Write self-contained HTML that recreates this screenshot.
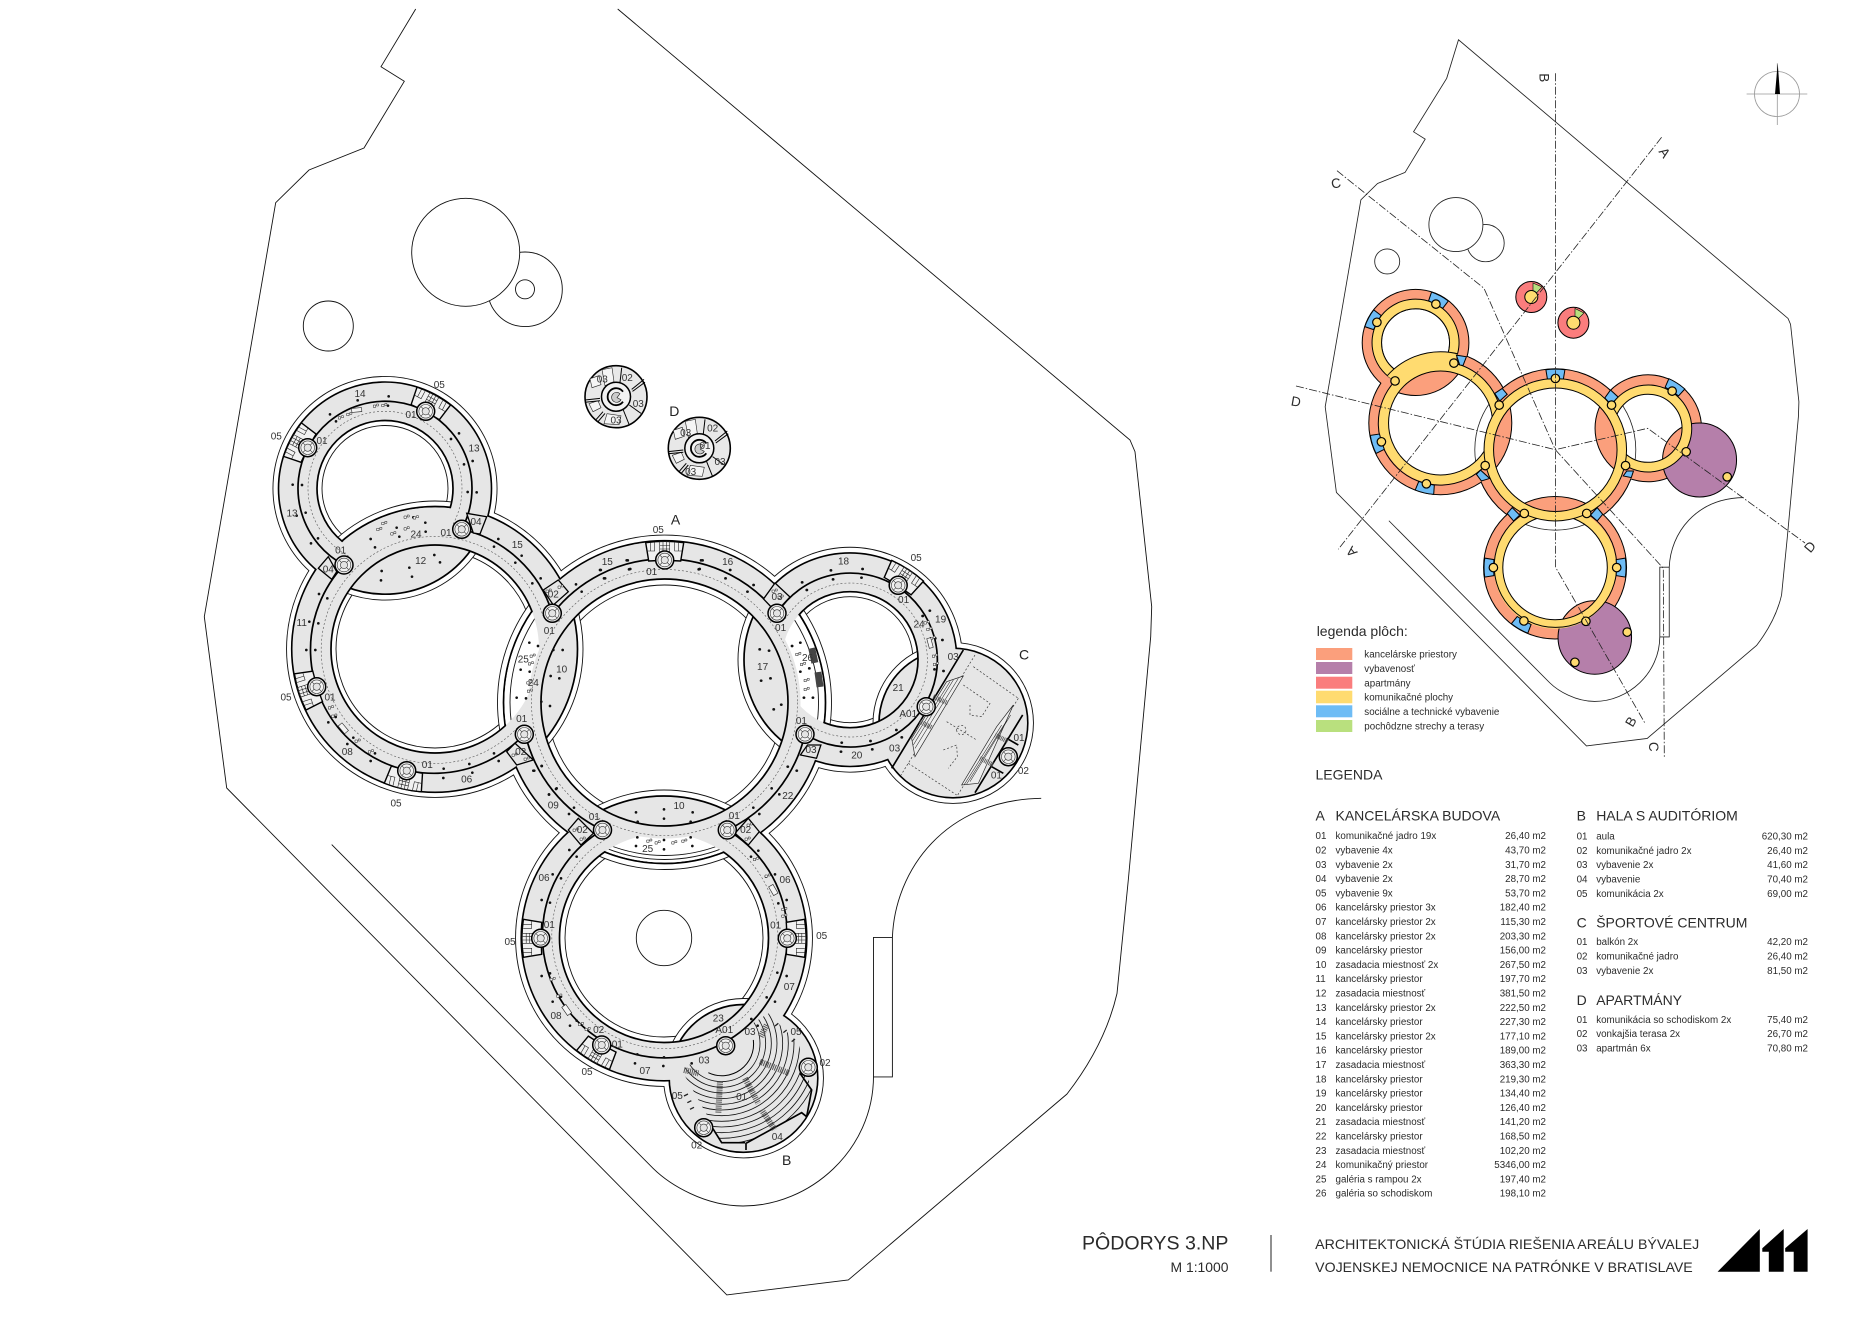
<!DOCTYPE html>
<html lang="sk"><head><meta charset="utf-8"><title>Pôdorys 3.NP</title>
<style>
html,body{margin:0;padding:0;background:#fff}
svg{display:block}
text{font-family:"Liberation Sans",sans-serif;fill:#2b2b2b}
.l text{font-size:10px;text-anchor:middle;dominant-baseline:central;fill:#333}
.big text{font-size:14px;text-anchor:middle;dominant-baseline:central;fill:#222}
.t{stroke:#111;stroke-width:.9;fill:none}
.k{stroke:#000;stroke-width:1.7;fill:none}
.dash{stroke:#555;stroke-width:.6;fill:none;stroke-dasharray:2 2}
.g{fill:#e6e6e6}
.row text{font-size:9.8px}
.val text{font-size:9.8px;text-anchor:end}
.h{font-size:14px}
.ms{stroke:#000;stroke-width:2;fill:none}
.sec{stroke:#222;stroke-width:.8;fill:none;stroke-dasharray:8 2 1.5 2}
.sl text{font-size:13.5px;text-anchor:middle;dominant-baseline:central}
</style></head><body>
<svg xmlns="http://www.w3.org/2000/svg" xmlns:xlink="http://www.w3.org/1999/xlink" width="1872" height="1335" viewBox="0 0 1872 1335">
<rect width="1872" height="1335" fill="#fff"/>
<defs>
<clipPath id="cT"><circle cx="385" cy="488.5" r="68"/></clipPath>
<clipPath id="cTm"><circle cx="385" cy="488.5" r="87"/></clipPath>
<clipPath id="cL"><circle cx="435" cy="649" r="104"/></clipPath>
<clipPath id="cA"><circle cx="664.5" cy="702.5" r="123.5"/></clipPath>
<clipPath id="cR"><circle cx="850" cy="659.7" r="68"/></clipPath>
<clipPath id="cB"><circle cx="664" cy="938" r="104.5"/></clipPath>
<clipPath id="cSeat"><polygon points="805,700 895,790 935,930 905,1000 735,1090 665,1090 640,1040 545,870 665,790"/></clipPath>
<path id="erL" fill-rule="evenodd" d="M293.5,649a141.5,141.5 0 1,0 283,0a141.5,141.5 0 1,0 -283,0ZM331,649a104,104 0 1,0 208,0a104,104 0 1,0 -208,0Z"/>
<path id="erA" fill-rule="evenodd" d="M504.5,702.5a160,160 0 1,0 320,0a160,160 0 1,0 -320,0ZM541,702.5a123.5,123.5 0 1,0 247,0a123.5,123.5 0 1,0 -247,0Z"/>
<path id="gal" fill-rule="evenodd" d="M504.5,702.5a160,160 0 1,0 320,0a160,160 0 1,0 -320,0ZM528.5,702.5a136,136 0 1,0 272,0a136,136 0 1,0 -272,0Z"/>
<path id="yT" fill-rule="evenodd" d="M298,488.5a87,87 0 1,0 174,0a87,87 0 1,0 -174,0ZM317,488.5a68,68 0 1,0 136,0a68,68 0 1,0 -136,0Z"/>
<path id="yL" fill-rule="evenodd" d="M312,649a123,123 0 1,0 246,0a123,123 0 1,0 -246,0ZM331,649a104,104 0 1,0 208,0a104,104 0 1,0 -208,0Z"/>
<path id="yA" fill-rule="evenodd" d="M522,702.5a142.5,142.5 0 1,0 285,0a142.5,142.5 0 1,0 -285,0ZM541,702.5a123.5,123.5 0 1,0 247,0a123.5,123.5 0 1,0 -247,0Z"/>
<path id="yR" fill-rule="evenodd" d="M763,659.7a87,87 0 1,0 174,0a87,87 0 1,0 -174,0ZM782,659.7a68,68 0 1,0 136,0a68,68 0 1,0 -136,0Z"/>
<path id="yB" fill-rule="evenodd" d="M541.5,938a122.5,122.5 0 1,0 245,0a122.5,122.5 0 1,0 -245,0ZM559.5,938a104.5,104.5 0 1,0 209,0a104.5,104.5 0 1,0 -209,0Z"/>
<path id="ws" d="M-1,-16L17.3,-19Q20.2,0 17.3,19L-1,16Q0,0 -1,-16Z"/>
<g id="w5">
<use href="#ws" xlink:href="#ws" fill="#f1f1f1" stroke="#000" stroke-width="1.4"/>
<path d="M9,-17V-10H17.5M9,-14H17.5M9,17V10H17.5M9,14H17.5M7.5,-5H18.5V5H7.5ZM7.5,-1.7H18.5M7.5,1.7H18.5M11,-5V5M14.5,-5V5" fill="none" stroke="#222" stroke-width=".6"/>
</g>
<g id="core">
<circle r="9" fill="#e9e9e9" stroke="#000" stroke-width="1.5"/>
<circle r="6.8" fill="#f3f3f3" stroke="#333" stroke-width=".6"/>
<circle r="3.6" fill="#e4e4e4" stroke="#333" stroke-width=".6"/>
<path d="M2.5,2.5L5,5M-2.5,2.5L-5,5M2.5,-2.5L5,-5M-2.5,-2.5L-5,-5" stroke="#333" stroke-width=".6"/>
</g>
<path id="f" d="M0,0h2.4v2.4h-2.4zM3.2,-1h2v2h-2z" fill="#f6f6f6" stroke="#222" stroke-width=".5"/>
<g id="apt">
<circle r="31" fill="#e8e8e8" stroke="#000" stroke-width="1.6"/>
<path d="M-14,-27L-4,-29L-2,-15L-11,-11ZM-26,-18L-17,-21L-15,-12L-24,-9ZM-27,7L-18,4L-15,11L-23,15ZM-9,17L5,19L3,28L-12,27Z" fill="#f5f5f5" stroke="#222" stroke-width=".6"/>
<path d="M5.7,-29L4,-14.3M28,-17.3L15.7,-7.3M29,-14.5L16.5,-5.3M25,16.7L13.3,8.3M13.3,28.3L7.3,13.3M-11,16.7L-18,25M-13,15L-20,23M-31,3.3L-16,1.7M-31,5.5L-16,4" stroke="#000" stroke-width="1" fill="none"/>
<circle r="14.5" fill="#f2f2f2" stroke="#000" stroke-width="1.5"/>
<path d="M7,-5A8.5,8.5 0 1,0 7,5" fill="none" stroke="#000" stroke-width="1.8"/>
<path d="M4,-3A5,5 0 1,0 5,3L1,1Z" fill="#ccc" stroke="#222" stroke-width=".6"/>
</g>
</defs>

<!-- MAIN PLAN -->
<g class="t">
<path d="M415.7,9L381,66.7L404.3,81.3L364,148L309,170L275.7,202.7L204.3,616.7L226.7,788L726.8,1294.9L848.3,1280L1067,1094Q1105,1045 1117,993.5L1128.3,880L1150.7,636.7L1151.7,606.7L1135,451.7L1130,440L617.7,9"/>
<path d="M331.7,844.6L653.3,1168.6C670,1185 705,1206 743,1206C810,1206 873.5,1150 873.5,1076V937.4H892.4V1076.9H873.5M892.4,937.4C895,870 945,800 1041.2,798.3"/>
<circle cx="525" cy="289.3" r="37.3"/><circle cx="525" cy="289.3" r="9.5"/>
<circle cx="465.7" cy="252.3" r="54" fill="#fff"/>
<circle cx="328.3" cy="326" r="25"/>
</g>
<!-- thin union: stroke doubled because the white fill hides its inner half -->
<g fill="none" stroke="#111" stroke-width="1.8">
<circle cx="385" cy="488.5" r="111.6"/><circle cx="435" cy="649" r="148"/><circle cx="664.5" cy="702.5" r="167"/><circle cx="850" cy="659.7" r="112"/><circle cx="664" cy="938" r="148"/><circle cx="953" cy="723" r="80"/><circle cx="743.5" cy="1078" r="79.5"/>
</g>
<g fill="#fff">
<circle cx="385" cy="488.5" r="111.6"/><circle cx="435" cy="649" r="148"/><circle cx="664.5" cy="702.5" r="167"/><circle cx="850" cy="659.7" r="112"/><circle cx="664" cy="938" r="148"/><circle cx="953" cy="723" r="80"/><circle cx="743.5" cy="1078" r="79.5"/>
</g>
<!-- thick union: stroke doubled because the grey fill hides its inner half -->
<g fill="none" stroke="#000" stroke-width="3.2">
<circle cx="385" cy="488.5" r="105.7"/><circle cx="435" cy="649" r="142.5"/><circle cx="664.5" cy="702.5" r="161"/><circle cx="850" cy="659.7" r="106"/><circle cx="664" cy="938" r="142"/><circle cx="953" cy="723" r="74"/><circle cx="743.5" cy="1078" r="73.5"/>
</g>
<g class="g">
<circle cx="385" cy="488.5" r="105.7"/><circle cx="435" cy="649" r="142.5"/><circle cx="664.5" cy="702.5" r="161"/><circle cx="850" cy="659.7" r="106"/><circle cx="664" cy="938" r="142"/><circle cx="953" cy="723" r="74"/><circle cx="743.5" cy="1078" r="73.5"/>
</g>

<!-- TL hole -->
<g clip-path="url(#cT)">
<rect x="300" y="400" width="180" height="180" fill="#fff"/>
<circle class="t" cx="385" cy="488.5" r="63"/>
<circle class="t" cx="435" cy="649" r="148" style="fill:#fff"/>
<circle class="k g" cx="435" cy="649" r="142.5" style="fill:#e6e6e6"/>
</g>
<circle class="k" cx="385" cy="488.5" r="68"/>
<use xlink:href="#erL" href="#erL" fill="#e6e6e6"/>

<!-- L hole -->
<g clip-path="url(#cL)">
<rect x="320" y="540" width="230" height="220" fill="#fff"/>
<circle class="t" cx="435" cy="649" r="99"/>
<circle class="t" cx="385" cy="488.5" r="111.6" style="fill:#fff"/>
<circle class="k" cx="385" cy="488.5" r="105.7" style="fill:#e6e6e6"/>
<circle class="t" cx="664.5" cy="702.5" r="167" style="fill:#fff"/>
<circle class="k" cx="664.5" cy="702.5" r="161" style="fill:#e6e6e6"/>
</g>
<circle class="k" cx="435" cy="649" r="104"/>

<!-- R hole -->
<g clip-path="url(#cR)">
<rect x="770" y="580" width="160" height="160" fill="#fff"/>
<circle class="t" cx="850" cy="659.7" r="63"/>
<circle class="t" cx="664.5" cy="702.5" r="167" style="fill:#fff"/>
<circle class="k" cx="664.5" cy="702.5" r="161" style="fill:#e6e6e6"/>
<circle class="t" cx="953" cy="723" r="80" style="fill:#fff"/>
<circle class="k" cx="953" cy="723" r="74" style="fill:#e6e6e6"/>
</g>
<circle class="k" cx="850" cy="659.7" r="68"/>

<!-- Bottom hole -->
<g clip-path="url(#cB)">
<rect x="550" y="825" width="230" height="225" fill="#fff"/>
<circle class="t" cx="664" cy="938" r="99"/>
<circle class="t" cx="664.5" cy="702.5" r="167" style="fill:#fff"/>
<circle class="k" cx="664.5" cy="702.5" r="161" style="fill:#e6e6e6"/>
<circle class="t" cx="743.5" cy="1078" r="79.5" style="fill:#fff"/>
<circle class="k" cx="743.5" cy="1078" r="73.5" style="fill:#e6e6e6"/>
<circle class="t" cx="664" cy="938" r="27.7"/>
</g>
<circle class="k" cx="664" cy="938" r="104.5"/>

<use xlink:href="#erA" href="#erA" fill="#e6e6e6"/>

<!-- A hole -->
<g clip-path="url(#cA)">
<rect x="535" y="575" width="260" height="255" fill="#fff"/>
<circle class="t" cx="664.5" cy="702.5" r="117.5"/>
<circle class="t" cx="435" cy="649" r="148" style="fill:#fff"/>
<circle class="k" cx="435" cy="649" r="142.5" style="fill:#e6e6e6"/>
<circle class="t" cx="850" cy="659.7" r="112" style="fill:#fff"/>
<circle class="k" cx="850" cy="659.7" r="106" style="fill:#e6e6e6"/>
<circle class="t" cx="664" cy="938" r="148" style="fill:#fff"/>
<circle class="k" cx="664" cy="938" r="142" style="fill:#e6e6e6"/>
</g>
<circle class="k" cx="664.5" cy="702.5" r="123.5"/>

<!-- galleries -->
<g clip-path="url(#cL)"><use xlink:href="#gal" href="#gal" fill="#fff"/><circle class="t" cx="664.5" cy="702.5" r="154.5"/></g>
<g clip-path="url(#cR)"><use xlink:href="#gal" href="#gal" fill="#fff"/><circle class="t" cx="664.5" cy="702.5" r="154"/></g>
<g clip-path="url(#cB)"><use xlink:href="#gal" href="#gal" fill="#fff"/><circle class="t" cx="664.5" cy="702.5" r="153"/><circle class="t" cx="664.5" cy="702.5" r="157"/></g>
<rect x="-3.5" y="-7.5" width="7" height="15" fill="#444" transform="translate(813.3 655.5) rotate(-12)"/>
<rect x="-3.5" y="-7.5" width="7" height="15" fill="#444" transform="translate(819 679.5) rotate(-8)"/>

<!-- dashed corridors -->
<g class="dash">
<path d="M348.7,556.2A77,77 0 1,1 452.9,524.6"/>
<path d="M517.4,727.7A113.5,113.5 0 1,1 543,616"/>
<circle cx="664.5" cy="702.5" r="133"/>
<path d="M810.2,725.7A77,77 0 1,0 785.4,618.7"/>
<path d="M722.4,838.3A113,113 0 1,1 607.2,838.3"/>
</g>

<!-- mid walls -->
<g class="k">
<path d="M344,565A87,87 0 1,1 461.7,529.3"/>
<path d="M461.7,529.3A123,123 0 0,1 552.3,613.3"/>
<path d="M524.3,734.3A123,123 0 1,1 344,565"/>
<path d="M552.9,613.3A142.5,142.5 0 0,1 777,613.3"/>
<path d="M805,734.3A142.5,142.5 0 0,1 727.3,830"/>
<path d="M602.5,830A142.5,142.5 0 0,1 525.2,734"/>
<path d="M805,734.3A87,87 0 1,0 777,613.3"/>
<path d="M727.3,830A122.5,122.5 0 1,1 602.5,830"/>
</g>

<!-- rooms -->
<g fill="#e6e6e6" stroke="#000" stroke-width="1.3">
<polygon points="543.3,590 558.3,580 568.3,591.7 553.3,605"/>
<polygon points="466.7,513.3 486.7,516.7 480,534 473.3,533"/>
<polygon points="328.3,556.7 318.3,568.3 331.7,579.3 336.7,571.7"/>
<polygon points="515,743.3 506.7,751.7 516.7,765 533.3,760"/>
<polygon points="775,583 763.5,599 776,612 790,597"/>
<polygon points="820.9,745 816.5,758.3 800.4,755 807.5,745"/>
<polygon points="578.3,818.3 568.3,830 581,845 593.3,833.3"/>
<polygon points="748.3,818.3 759.3,831.7 748.3,845 735,833.3"/>
</g>
<use href="#w5" xlink:href="#w5" transform="translate(425.7 411.3) rotate(-62)"/>
<use href="#w5" xlink:href="#w5" transform="translate(307.7 447.7) rotate(-152)"/>
<use href="#w5" xlink:href="#w5" transform="translate(316.7 686.7) rotate(162.3)"/>
<use href="#w5" xlink:href="#w5" transform="translate(406.7 770.7) rotate(103)"/>
<use href="#w5" xlink:href="#w5" transform="translate(664.7 560) rotate(-90)"/>
<use href="#w5" xlink:href="#w5" transform="translate(898.2 585.3) rotate(-57)"/>
<use href="#w5" xlink:href="#w5" transform="translate(540.7 938.3) rotate(180)"/>
<use href="#w5" xlink:href="#w5" transform="translate(787.3 938.3)"/>
<use href="#w5" xlink:href="#w5" transform="translate(601.7 1045) rotate(120)"/>

<!-- C interior -->
<g transform="translate(800 380) scale(.33333)">
<path d="M490,810L275,1165M668,1005L525,1238M655,1095L620,1075M610,1180L575,1160" fill="none" stroke="#000" stroke-width="5"/>
<path d="M525,825L300,1190M520,860L655,955M655,955L470,1250M325,1150L470,1245M490,915L570,970L545,1010L510,1005L510,975M430,1110L470,1095L472,1130L445,1165M440,1025L530,1080M470,1050a14,14 0 1,0 28,0a14,14 0 1,0 -28,0" fill="none" stroke="#333" stroke-width="2" stroke-dasharray="6 6"/>
<polygon points="490,888 440,905 335,1075 345,1130" fill="#eee" stroke="#222" stroke-width="2"/>
<polygon points="640,975 590,1040 485,1215 535,1210" fill="#eee" stroke="#222" stroke-width="2"/>
<path d="M475,895L345,1105M460,900L340,1095M450,905L338,1082M632,1005L510,1205M620,1022L500,1212M605,1035L492,1215" fill="none" stroke="#222" stroke-width="1.6"/>
<path d="M400,950L445,970M360,1025L400,1045M585,1065L625,1085M540,1135L580,1155" fill="none" stroke="#555" stroke-width="14" stroke-dasharray="2.5 2.5"/>
</g>

<!-- B interior -->
<g transform="translate(500 780) scale(.33333)">
<g clip-path="url(#cSeat)" fill="none" stroke="#111" stroke-width="2.5">
<circle cx="665" cy="790" r="115"/><circle cx="665" cy="790" r="132"/><circle cx="665" cy="790" r="149"/><circle cx="665" cy="790" r="166"/><circle cx="665" cy="790" r="183"/><circle cx="665" cy="790" r="200"/><circle cx="665" cy="790" r="217"/><circle cx="665" cy="790" r="234"/><circle cx="665" cy="790" r="251"/><circle cx="665" cy="790" r="268"/><circle cx="665" cy="790" r="285"/><circle cx="665" cy="790" r="302"/>
</g>
<path d="M760,780A95,95 0 0,1 625,878" fill="none" stroke="#000" stroke-width="3"/>
<path d="M635,1040L665,1088H735M738,1110V1090L905,998L920,1010M900,880L935,930L920,1010" fill="none" stroke="#000" stroke-width="5"/>
<path d="M660,905L655,1000M735,895L775,970M785,990L825,1050M780,845L868,880M552,870L595,880M800,735L782,770" fill="none" stroke="#555" stroke-width="18" stroke-dasharray="3 3"/>
<path d="M552,948l12,-6M562,968l12,-6M570,988l12,-6M825,738l10,-8M850,758l10,-8M875,785l10,-8" fill="none" stroke="#222" stroke-width="4"/>
</g>

<!-- dots -->
<g transform="translate(200 360) scale(.33333)" stroke="#111" stroke-width="8" stroke-linecap="round" fill="none">
<path d="M473,121h0M566,109h0M564,137h0M390,163h0M408,184h0M480,148h0M777,220h0M753,237h0M818,303h0M792,313h0M830,397h0M803,396h0M278,374h0M306,375h0M290,467h0M317,458h0M333,550h0M354,535h0M676,488h0M677,515h0M512,537h0M525,562h0M590,503h0M598,530h0M640,472h0M895,537h0M882,560h0M965,587h0M946,608h0M1022,655h0M997,670h0M1128,673h0M1145,695h0M1200,630h0M1212,655h0M1280,601h0M1287,628h0M1503,601h0M1496,628h0M703,585h0M720,607h0M628,623h0M636,650h0M545,633h0M543,661h0M357,702h0M382,715h0M328,785h0M355,790h0M319,870h0M346,870h0M385,1087h0M407,1071h0M442,1152h0M460,1133h0M512,1203h0M525,1180h0M731,1226h0M730,1254h0M808,1212h0M817,1238h0M882,1180h0M896,1203h0M1060,870h0M1088,870h0M1052,948h0M1078,955h0M1024,1025h0M1050,1038h0M988,848h0M1014,858h0M962,929h0M989,935h0M950,1013h0M978,1015h0M1025,1218h0M1000,1232h0M1068,1287h0M1047,1303h0"/>
</g>
<g transform="translate(500 500) scale(.3597 .33333)" stroke="#111" stroke-width="8" stroke-linecap="round" fill="none">
<path d="M280,210h0M292,235h0M355,181h0M362,207h0M563,181h0M555,207h0M640,210h0M627,235h0M705,255h0M688,275h0M840,247h0M853,270h0M920,211h0M926,238h0M1008,207h0M1005,233h0M1195,332h0M1175,348h0M1230,420h0M1210,415h0M1233,513h0M1208,508h0M1117,712h0M1102,690h0M1035,748h0M1030,723h0M950,728h0M948,755h0M835,428h0M812,438h0M860,505h0M835,515h0M870,593h0M845,593h0M722,448h0M748,452h0M726,542h0M752,535h0M761,628h0M782,614h0M800,800h0M825,812h0M116,798h0M95,812h0"/>
</g>
<g transform="translate(500 780) scale(.33333)" stroke="#111" stroke-width="8" stroke-linecap="round" fill="none">
<path d="M147,44h0M170,25h0M207,102h0M222,83h0M815,25h0M838,43h0M760,83h0M778,102h0M412,172h0M492,180h0M572,172h0M408,198h0M492,208h0M577,198h0M408,97h0M413,125h0M492,88h0M492,116h0M578,97h0M572,125h0M158,283h0M183,295h0M125,360h0M150,368h0M125,588h0M150,580h0M158,665h0M183,650h0M210,737h0M230,722h0M230,230h0M208,210h0M775,212h0M753,230h0M825,283h0M798,290h0M860,360h0M835,370h0M860,588h0M832,578h0M825,665h0M800,652h0M773,737h0M754,717h0M412,823h0M492,832h0M575,850h0M405,850h0M490,858h0"/>
</g>

<!-- furniture -->
<g>
<use href="#f" xlink:href="#f" x="338.3" y="416.7"/><use href="#f" xlink:href="#f" x="346.7" y="413.3"/><use href="#f" xlink:href="#f" x="373.3" y="405"/><use href="#f" xlink:href="#f" x="381.7" y="404.3"/><use href="#f" xlink:href="#f" x="376.7" y="528.3"/><use href="#f" xlink:href="#f" x="390.7" y="532.7"/><use href="#f" xlink:href="#f" x="404" y="527.7"/><use href="#f" xlink:href="#f" x="413.3" y="516.7"/><use href="#f" xlink:href="#f" x="404" y="516"/><use href="#f" xlink:href="#f" x="381.7" y="522.3"/><use href="#f" xlink:href="#f" x="530" y="655"/><use href="#f" xlink:href="#f" x="528.3" y="662.7"/><use href="#f" xlink:href="#f" x="526.7" y="681.7"/><use href="#f" xlink:href="#f" x="527.3" y="690"/><use href="#f" xlink:href="#f" x="328.3" y="706.7"/><use href="#f" xlink:href="#f" x="331.7" y="715"/><use href="#f" xlink:href="#f" x="355" y="740"/><use href="#f" xlink:href="#f" x="368.3" y="750.7"/><use href="#f" xlink:href="#f" x="924" y="621.7"/><use href="#f" xlink:href="#f" x="926.7" y="628.3"/><use href="#f" xlink:href="#f" x="930" y="637.3"/><use href="#f" xlink:href="#f" x="932.3" y="655"/><use href="#f" xlink:href="#f" x="933.3" y="663.3"/><use href="#f" xlink:href="#f" x="646.7" y="840"/><use href="#f" xlink:href="#f" x="655" y="841.7"/><use href="#f" xlink:href="#f" x="671.7" y="841.7"/><use href="#f" xlink:href="#f" x="681.7" y="840"/><use href="#f" xlink:href="#f" x="753.3" y="858.3"/><use href="#f" xlink:href="#f" x="765" y="875"/><use href="#f" xlink:href="#f" x="781.7" y="908.3"/><use href="#f" xlink:href="#f" x="781.7" y="915"/><use href="#f" xlink:href="#f" x="550" y="978.3"/><use href="#f" xlink:href="#f" x="556.7" y="995"/><use href="#f" xlink:href="#f" x="578.3" y="1023.3"/><use href="#f" xlink:href="#f" x="585" y="1028.3"/><use href="#f" xlink:href="#f" x="795.7" y="653.3"/><use href="#f" xlink:href="#f" x="800.4" y="663.3"/><use href="#f" xlink:href="#f" x="804" y="679.3"/><use href="#f" xlink:href="#f" x="804" y="688.3"/>
<use href="#f" xlink:href="#f" x="546" y="590"/><use href="#f" xlink:href="#f" x="558" y="586"/><use href="#f" xlink:href="#f" x="512" y="754"/><use href="#f" xlink:href="#f" x="524" y="758"/><use href="#f" xlink:href="#f" x="573" y="829"/><use href="#f" xlink:href="#f" x="580" y="838"/><use href="#f" xlink:href="#f" x="747" y="824"/><use href="#f" xlink:href="#f" x="745" y="838"/><use href="#f" xlink:href="#f" x="772" y="590"/><use href="#f" xlink:href="#f" x="778" y="596"/>
</g>
<g fill="#f4f4f4" stroke="#222" stroke-width=".6">
<rect x="-2.5" y="-5" width="5" height="10" transform="translate(343.3 728.3) rotate(-40)"/>
<rect x="-5" y="-2" width="10" height="4" transform="translate(356.7 410) rotate(-5)"/>
<rect x="-2.5" y="-5" width="5" height="10" transform="translate(773.3 890) rotate(-30)"/>
<rect x="-2.5" y="-5" width="5" height="10" transform="translate(566.7 1010) rotate(-35)"/>
<rect x="-2" y="-5" width="4" height="10" transform="translate(930 643) rotate(-15)"/>
</g>

<!-- cores -->
<use href="#core" xlink:href="#core" x="425.7" y="411.3"/><use href="#core" xlink:href="#core" x="307.7" y="447.7"/><use href="#core" xlink:href="#core" x="344" y="565"/><use href="#core" xlink:href="#core" x="461.7" y="529.3"/><use href="#core" xlink:href="#core" x="552.3" y="613.3"/><use href="#core" xlink:href="#core" x="524.3" y="734.3"/><use href="#core" xlink:href="#core" x="406.7" y="770.7"/><use href="#core" xlink:href="#core" x="316.7" y="686.7"/><use href="#core" xlink:href="#core" x="664.7" y="560"/><use href="#core" xlink:href="#core" x="777" y="613.3"/><use href="#core" xlink:href="#core" x="805" y="734.3"/><use href="#core" xlink:href="#core" x="602.5" y="830"/><use href="#core" xlink:href="#core" x="727.3" y="830"/><use href="#core" xlink:href="#core" x="898.2" y="585.3"/><use href="#core" xlink:href="#core" x="926.2" y="706.7"/><use href="#core" xlink:href="#core" x="1008.3" y="756.7"/><use href="#core" xlink:href="#core" x="540.7" y="938.3"/><use href="#core" xlink:href="#core" x="787.3" y="938.3"/><use href="#core" xlink:href="#core" x="601.7" y="1045"/><use href="#core" xlink:href="#core" x="725.7" y="1045.7"/><use href="#core" xlink:href="#core" x="808.3" y="1067.3"/><use href="#core" xlink:href="#core" x="703.7" y="1127.7"/>

<use href="#apt" xlink:href="#apt" x="616" y="396.7"/>
<use href="#apt" xlink:href="#apt" x="699.3" y="448.3"/>

<!-- plan labels -->
<g class="l">
<text x="439.3" y="385.7">05</text><text x="360" y="394.7">14</text><text x="411" y="415.7">01</text><text x="474" y="449">13</text><text x="276.3" y="437">05</text><text x="322" y="441.7">01</text><text x="292" y="514">13</text><text x="416" y="535">24</text><text x="446" y="533.3">01</text><text x="476" y="522.3">04</text><text x="517.3" y="545.7">15</text><text x="340.7" y="551">01</text><text x="328.3" y="570">04</text><text x="420.7" y="561.3">12</text><text x="553.3" y="595">02</text><text x="607.3" y="562.3">15</text><text x="658.3" y="530.7">05</text><text x="651.7" y="572.7">01</text><text x="549.3" y="631.7">01</text><text x="301.7" y="623.3">11</text><text x="523.3" y="660">25</text><text x="561.7" y="670">10</text><text x="533.3" y="683.3">24</text><text x="286" y="698">05</text><text x="330" y="698">01</text><text x="521.7" y="719.3">01</text><text x="520.7" y="752.7">02</text><text x="347.3" y="752.7">08</text><text x="427.3" y="765.7">01</text><text x="466.7" y="780">06</text><text x="396" y="804">05</text>
<text x="727.7" y="562.7">16</text><text x="843.5" y="562">18</text><text x="916.2" y="558.7">05</text><text x="903.6" y="600.7">01</text><text x="777" y="597.3">03</text><text x="780.6" y="628.7">01</text><text x="919" y="625">24</text><text x="940.6" y="620">19</text><text x="807.5" y="658.3">26</text><text x="762.6" y="667.7">17</text><text x="953.2" y="657.7">03</text><text x="898.2" y="688.7">21</text><text x="908.3" y="714.3">A01</text><text x="801.4" y="721.7">01</text><text x="894.6" y="749">03</text><text x="856.8" y="756">20</text><text x="811" y="750.7">03</text><text x="1019" y="738.7">01</text><text x="1023.4" y="771.7">02</text><text x="996.4" y="776">01</text><text x="787.8" y="796.7">22</text>
<text x="553.3" y="806">09</text><text x="679" y="806.7">10</text><text x="594.3" y="817.3">01</text><text x="734.3" y="816.7">01</text><text x="582.3" y="830.7">02</text><text x="745.7" y="830.7">02</text><text x="647.7" y="849.3">25</text><text x="544" y="878.3">06</text><text x="785" y="880.7">06</text><text x="549.3" y="925.3">01</text><text x="775.7" y="926">01</text><text x="510" y="942.3">05</text><text x="821.7" y="936.3">05</text><text x="789.3" y="987.3">07</text><text x="556" y="1016.7">08</text><text x="718.3" y="1019">23</text><text x="598.7" y="1030.7">02</text><text x="724.3" y="1030.7">A01</text><text x="750" y="1032.3">03</text><text x="796" y="1032.3">05</text><text x="617.3" y="1045">01</text><text x="704" y="1061">03</text><text x="825" y="1063.3">02</text><text x="587" y="1072.3">05</text><text x="645" y="1071.7">07</text><text x="677.3" y="1096.7">05</text><text x="741.7" y="1097.7">01</text><text x="777.3" y="1137.7">04</text><text x="696.7" y="1146">02</text>
<text x="602.3" y="380">03</text><text x="627.3" y="378.3">02</text><text x="638.3" y="404.3">03</text><text x="616" y="421">03</text><text x="712.7" y="429">02</text><text x="705" y="446.7">01</text><text x="685.7" y="433.3">03</text><text x="720" y="462.7">03</text><text x="690.7" y="472.7">03</text>
</g>
<g class="big">
<text x="675.5" y="519.3">A</text><text x="1024" y="654.3">C</text><text x="786.7" y="1160">B</text><text x="674.3" y="411">D</text>
</g>

<!-- MINI PLAN (same geometry, half scale) -->
<g transform="translate(1555.3 449.7) scale(.5) translate(-664.5 -702.5)">
<g fill="none" stroke="#222" stroke-width="1.7">
<path d="M470.9,-117.3L447.3,-40.3L381,66.7L404.3,81.3L364,148L309,170L275.7,202.7L204.3,616.7L226.7,788L726.8,1294.9L848.3,1280L1067,1094Q1105,1045 1117,993.5L1128.3,880L1150.7,636.7L1151.7,606.7L1135,451.7L1130,440Z"/>
<path d="M331.7,844.6L653.3,1168.6C670,1185 705,1206 743,1206C810,1206 873.5,1150 873.5,1076V937.4H892.4V1076.9H873.5M892.4,937.4C895,870 945,800 1041.2,798.3"/>
<circle cx="525" cy="289.3" r="37.3"/>
<circle cx="465.7" cy="252.3" r="54" fill="#fff"/>
<circle cx="328.3" cy="326" r="25"/>
</g>
<g fill="none" stroke="#000" stroke-width="4"><circle cx="385" cy="488.5" r="105.7"/><circle cx="435" cy="649" r="142.5"/><circle cx="664.5" cy="702.5" r="161"/><circle cx="850" cy="659.7" r="106"/><circle cx="664" cy="938" r="142"/></g>
<g fill="#fb9f7c"><circle cx="385" cy="488.5" r="105.7"/><circle cx="435" cy="649" r="142.5"/><circle cx="664.5" cy="702.5" r="161"/><circle cx="850" cy="659.7" r="106"/><circle cx="664" cy="938" r="142"/></g>
<g fill="#b57faa" stroke="#000" stroke-width="2"><circle cx="953" cy="723" r="74"/><circle cx="743.5" cy="1078" r="73.5"/></g>

<g clip-path="url(#cT)"><rect x="300" y="400" width="180" height="180" fill="#fff"/></g>
<circle class="ms" cx="385" cy="488.5" r="68"/>
<use href="#yT" xlink:href="#yT" fill="#ffdb70"/>
<path class="ms" d="M344,565A87,87 0 1,1 461.7,529.3"/><circle class="ms" cx="385" cy="488.5" r="68"/>
<g clip-path="url(#cTm)"><circle cx="435" cy="649" r="142.5" fill="#ffdb70" stroke="#000" stroke-width="2"/></g>

<g clip-path="url(#cL)"><rect x="320" y="540" width="230" height="220" fill="#fff"/>
<circle cx="385" cy="488.5" r="105.7" fill="#fb9f7c" stroke="#000" stroke-width="2"/>
<circle cx="664.5" cy="702.5" r="161" fill="#fff" stroke="#222" stroke-width="1.6"/></g>
<use href="#yL" xlink:href="#yL" fill="#ffdb70"/>
<circle class="ms" cx="435" cy="649" r="104"/>
<path class="ms" d="M461.7,529.3A123,123 0 0,1 552.3,613.3M524.3,734.3A123,123 0 1,1 344,565"/>

<g clip-path="url(#cR)"><rect x="770" y="580" width="160" height="160" fill="#fff"/>
<circle cx="953" cy="723" r="74" fill="#fb9f7c" stroke="#000" stroke-width="2"/>
<circle cx="664.5" cy="702.5" r="161" fill="#fff" stroke="#222" stroke-width="1.6"/></g>
<use href="#yR" xlink:href="#yR" fill="#ffdb70"/>
<circle class="ms" cx="850" cy="659.7" r="68"/>
<path class="ms" d="M805,734.3A87,87 0 1,0 777,613.3"/>

<g clip-path="url(#cB)"><rect x="550" y="825" width="230" height="225" fill="#fff"/>
<circle cx="743.5" cy="1078" r="73.5" fill="#fb9f7c" stroke="#000" stroke-width="2"/>
<circle cx="664.5" cy="702.5" r="161" fill="#fff" stroke="#222" stroke-width="1.6"/></g>
<use href="#yB" xlink:href="#yB" fill="#ffdb70"/>
<circle class="ms" cx="664" cy="938" r="104.5"/>
<path class="ms" d="M727.3,830A122.5,122.5 0 1,1 602.5,830"/>

<g clip-path="url(#cA)"><rect x="535" y="575" width="260" height="255" fill="#fff"/>
<circle cx="435" cy="649" r="142.5" fill="#fb9f7c" stroke="#000" stroke-width="2"/>
<circle cx="850" cy="659.7" r="106" fill="#fb9f7c" stroke="#000" stroke-width="2"/>
<circle cx="664" cy="938" r="142" fill="#fb9f7c" stroke="#000" stroke-width="2"/></g>
<use href="#yA" xlink:href="#yA" fill="#ffdb70"/>
<circle class="ms" cx="664.5" cy="702.5" r="123.5"/><circle class="ms" cx="664.5" cy="702.5" r="142.5"/>

<g fill="#6ebcf5" stroke="#000" stroke-width="2">
<polygon points="543.3,590 558.3,580 568.3,591.7 553.3,605"/>
<polygon points="515,743.3 506.7,751.7 516.7,765 533.3,760"/>
<polygon points="775,583 763.5,599 776,612 790,597"/>
<polygon points="820.9,745 816.5,758.3 800.4,755 807.5,745"/>
<polygon points="578.3,818.3 568.3,830 581,845 593.3,833.3"/>
<polygon points="748.3,818.3 759.3,831.7 748.3,845 735,833.3"/>
<polygon points="466.7,513.3 486.7,516.7 480,534 473.3,533"/>
<use href="#ws" xlink:href="#ws" transform="translate(425.7 411.3) rotate(-62)"/>
<use href="#ws" xlink:href="#ws" transform="translate(307.7 447.7) rotate(-152)"/>
<use href="#ws" xlink:href="#ws" transform="translate(316.7 686.7) rotate(162.3)"/>
<use href="#ws" xlink:href="#ws" transform="translate(406.7 770.7) rotate(103)"/>
<use href="#ws" xlink:href="#ws" transform="translate(664.7 560) rotate(-90)"/>
<use href="#ws" xlink:href="#ws" transform="translate(898.2 585.3) rotate(-57)"/>
<use href="#ws" xlink:href="#ws" transform="translate(540.7 938.3) rotate(180)"/>
<use href="#ws" xlink:href="#ws" transform="translate(787.3 938.3)"/>
<use href="#ws" xlink:href="#ws" transform="translate(601.7 1045) rotate(120)"/>
</g>
<g fill="#ffdb70" stroke="#000" stroke-width="2.4">
<circle cx="425.7" cy="411.3" r="8.5"/><circle cx="307.7" cy="447.7" r="8.5"/><circle cx="344" cy="565" r="8.5"/><circle cx="461.7" cy="529.3" r="8.5"/><circle cx="552.3" cy="613.3" r="8.5"/><circle cx="524.3" cy="734.3" r="8.5"/><circle cx="406.7" cy="770.7" r="8.5"/><circle cx="316.7" cy="686.7" r="8.5"/><circle cx="664.7" cy="560" r="8.5"/><circle cx="777" cy="613.3" r="8.5"/><circle cx="805" cy="734.3" r="8.5"/><circle cx="602.5" cy="830" r="8.5"/><circle cx="727.3" cy="830" r="8.5"/><circle cx="898.2" cy="585.3" r="8.5"/><circle cx="926.2" cy="706.7" r="8.5"/><circle cx="1008.3" cy="756.7" r="8.5"/><circle cx="540.7" cy="938.3" r="8.5"/><circle cx="787.3" cy="938.3" r="8.5"/><circle cx="601.7" cy="1045" r="8.5"/><circle cx="725.7" cy="1045.7" r="8.5"/><circle cx="808.3" cy="1067.3" r="8.5"/><circle cx="703.7" cy="1127.7" r="8.5"/>
</g>
</g>
<!-- mini apartments -->
<g stroke="#000" stroke-width="1">
<circle cx="1531.3" cy="297" r="15.5" fill="#fa7d7d"/>
<path d="M1533,283L1542,287L1536,293.5L1533,291Z" fill="#b9e07e" stroke-width=".6"/>
<circle cx="1531.3" cy="297" r="6.5" fill="#ffdb70"/>
<circle cx="1573.4" cy="322.7" r="15.5" fill="#fa7d7d"/>
<path d="M1575,308.5L1584,313L1578,319L1575,317Z" fill="#b9e07e" stroke-width=".6"/>
<circle cx="1573.4" cy="322.7" r="6.5" fill="#ffdb70"/>
</g>
<!-- section lines -->
<g class="sec">
<path d="M1555.6,73.3V567.3L1645,723.3"/>
<path d="M1661.6,137.3L1338.3,549.3"/>
<path d="M1337,170.7L1484,288.3L1555.3,449.7L1663.3,568.3L1664.3,756.7"/>
<path d="M1296,386L1555.3,449.7L1647.7,428.3L1805,543"/>
</g>
<g class="sl">
<text transform="translate(1544 77.7) rotate(90)">B</text>
<text transform="translate(1664.5 152.7) rotate(55)">A</text>
<text transform="translate(1336 183.3) rotate(-10)">C</text>
<text transform="translate(1296 401.7) rotate(10)">D</text>
<text transform="translate(1351.7 551.7) rotate(-130)">A</text>
<text transform="translate(1631 721.7) rotate(-60)">B</text>
<text transform="translate(1653.3 746.7) rotate(90)">C</text>
<text transform="translate(1810 547) rotate(-50)">D</text>
</g>
<!-- north -->
<g fill="none" stroke="#999" stroke-width=".8">
<circle cx="1777" cy="94" r="22.5"/><path d="M1746.6,94H1807.3M1777.3,63.3V125"/>
</g>
<polygon points="1777.7,63.3 1775,94 1780,94" fill="#000"/>

<!-- area legend -->
<text x="1316.7" y="636" style="font-size:14px">legenda plôch:</text>
<rect x="1316" y="648" width="36.3" height="12" fill="#fb9f7c"/>
<rect x="1316" y="662" width="36.3" height="12" fill="#b57faa"/>
<rect x="1316" y="676.7" width="36.3" height="12" fill="#fa7d7d"/>
<rect x="1316" y="690.7" width="36.3" height="12.6" fill="#ffdb70"/>
<rect x="1316" y="705.3" width="36.3" height="12" fill="#6ebcf5"/>
<rect x="1316" y="720" width="36.3" height="12" fill="#b9e07e"/>
<g class="row">
<text x="1364.3" y="657.5">kancelárske priestory</text>
<text x="1364.3" y="672">vybavenosť</text>
<text x="1364.3" y="686.3">apartmány</text>
<text x="1364.3" y="700.7">komunikačné plochy</text>
<text x="1364.3" y="715.2">sociálne a technické vybavenie</text>
<text x="1364.3" y="729.6">pochôdzne strechy a terasy</text>
</g>

<!-- LEGENDA -->
<text class="h" x="1315.5" y="779.7">LEGENDA</text>
<text class="h" x="1315.5" y="820.3">A</text><text class="h" x="1335.5" y="820.3">KANCELÁRSKA BUDOVA</text>
<text class="h" x="1576.6" y="820.3">B</text><text class="h" x="1596.2" y="820.3">HALA S AUDITÓRIOM</text>
<text class="h" x="1576.6" y="927.7">C</text><text class="h" x="1596.2" y="927.7">ŠPORTOVÉ CENTRUM</text>
<text class="h" x="1576.6" y="1005">D</text><text class="h" x="1596.2" y="1005">APARTMÁNY</text>
<g class="row">
<text x="1315.5" y="839.2">01</text><text x="1335.5" y="839.2">komunikačné jadro 19x</text>
<text x="1315.5" y="853.5">02</text><text x="1335.5" y="853.5">vybavenie 4x</text>
<text x="1315.5" y="867.8">03</text><text x="1335.5" y="867.8">vybavenie 2x</text>
<text x="1315.5" y="882.1">04</text><text x="1335.5" y="882.1">vybavenie 2x</text>
<text x="1315.5" y="896.4">05</text><text x="1335.5" y="896.4">vybavenie 9x</text>
<text x="1315.5" y="910.7">06</text><text x="1335.5" y="910.7">kancelársky priestor 3x</text>
<text x="1315.5" y="925">07</text><text x="1335.5" y="925">kancelársky priestor 2x</text>
<text x="1315.5" y="939.3">08</text><text x="1335.5" y="939.3">kancelársky priestor 2x</text>
<text x="1315.5" y="953.6">09</text><text x="1335.5" y="953.6">kancelársky priestor</text>
<text x="1315.5" y="967.9">10</text><text x="1335.5" y="967.9">zasadacia miestnosť 2x</text>
<text x="1315.5" y="982.2">11</text><text x="1335.5" y="982.2">kancelársky priestor</text>
<text x="1315.5" y="996.5">12</text><text x="1335.5" y="996.5">zasadacia miestnosť</text>
<text x="1315.5" y="1010.8">13</text><text x="1335.5" y="1010.8">kancelársky priestor 2x</text>
<text x="1315.5" y="1025.1">14</text><text x="1335.5" y="1025.1">kancelársky priestor</text>
<text x="1315.5" y="1039.4">15</text><text x="1335.5" y="1039.4">kancelársky priestor 2x</text>
<text x="1315.5" y="1053.7">16</text><text x="1335.5" y="1053.7">kancelársky priestor</text>
<text x="1315.5" y="1068">17</text><text x="1335.5" y="1068">zasadacia miestnosť</text>
<text x="1315.5" y="1082.3">18</text><text x="1335.5" y="1082.3">kancelársky priestor</text>
<text x="1315.5" y="1096.6">19</text><text x="1335.5" y="1096.6">kancelársky priestor</text>
<text x="1315.5" y="1110.9">20</text><text x="1335.5" y="1110.9">kancelársky priestor</text>
<text x="1315.5" y="1125.2">21</text><text x="1335.5" y="1125.2">zasadacia miestnosť</text>
<text x="1315.5" y="1139.5">22</text><text x="1335.5" y="1139.5">kancelársky priestor</text>
<text x="1315.5" y="1153.8">23</text><text x="1335.5" y="1153.8">zasadacia miestnosť</text>
<text x="1315.5" y="1168.1">24</text><text x="1335.5" y="1168.1">komunikačný priestor</text>
<text x="1315.5" y="1182.4">25</text><text x="1335.5" y="1182.4">galéria s rampou 2x</text>
<text x="1315.5" y="1196.7">26</text><text x="1335.5" y="1196.7">galéria so schodiskom</text>

<text x="1576.6" y="839.5">01</text><text x="1596.2" y="839.5">aula</text>
<text x="1576.6" y="853.8">02</text><text x="1596.2" y="853.8">komunikačné jadro 2x</text>
<text x="1576.6" y="868.1">03</text><text x="1596.2" y="868.1">vybavenie 2x</text>
<text x="1576.6" y="882.4">04</text><text x="1596.2" y="882.4">vybavenie</text>
<text x="1576.6" y="896.8">05</text><text x="1596.2" y="896.8">komunikácia 2x</text>
<text x="1576.6" y="945.2">01</text><text x="1596.2" y="945.2">balkón 2x</text>
<text x="1576.6" y="959.5">02</text><text x="1596.2" y="959.5">komunikačné jadro</text>
<text x="1576.6" y="973.8">03</text><text x="1596.2" y="973.8">vybavenie 2x</text>
<text x="1576.6" y="1022.8">01</text><text x="1596.2" y="1022.8">komunikácia so schodiskom 2x</text>
<text x="1576.6" y="1037.1">02</text><text x="1596.2" y="1037.1">vonkajšia terasa 2x</text>
<text x="1576.6" y="1051.5">03</text><text x="1596.2" y="1051.5">apartmán 6x</text>
</g>
<g class="val">
<text x="1546" y="839.2">26,40 m2</text><text x="1546" y="853.5">43,70 m2</text><text x="1546" y="867.8">31,70 m2</text><text x="1546" y="882.1">28,70 m2</text><text x="1546" y="896.4">53,70 m2</text><text x="1546" y="910.7">182,40 m2</text><text x="1546" y="925">115,30 m2</text><text x="1546" y="939.3">203,30 m2</text><text x="1546" y="953.6">156,00 m2</text><text x="1546" y="967.9">267,50 m2</text><text x="1546" y="982.2">197,70 m2</text><text x="1546" y="996.5">381,50 m2</text><text x="1546" y="1010.8">222,50 m2</text><text x="1546" y="1025.1">227,30 m2</text><text x="1546" y="1039.4">177,10 m2</text><text x="1546" y="1053.7">189,00 m2</text><text x="1546" y="1068">363,30 m2</text><text x="1546" y="1082.3">219,30 m2</text><text x="1546" y="1096.6">134,40 m2</text><text x="1546" y="1110.9">126,40 m2</text><text x="1546" y="1125.2">141,20 m2</text><text x="1546" y="1139.5">168,50 m2</text><text x="1546" y="1153.8">102,20 m2</text><text x="1546" y="1168.1">5346,00 m2</text><text x="1546" y="1182.4">197,40 m2</text><text x="1546" y="1196.7">198,10 m2</text>
<text x="1808" y="839.5">620,30 m2</text><text x="1808" y="853.8">26,40 m2</text><text x="1808" y="868.1">41,60 m2</text><text x="1808" y="882.4">70,40 m2</text><text x="1808" y="896.8">69,00 m2</text>
<text x="1808" y="945.2">42,20 m2</text><text x="1808" y="959.5">26,40 m2</text><text x="1808" y="973.8">81,50 m2</text>
<text x="1808" y="1022.8">75,40 m2</text><text x="1808" y="1037.1">26,70 m2</text><text x="1808" y="1051.5">70,80 m2</text>
</g>

<!-- title block -->
<text x="1082" y="1249.3" style="font-size:19px" textLength="146.5" lengthAdjust="spacingAndGlyphs">PÔDORYS 3.NP</text>
<text x="1170.5" y="1272" style="font-size:14px" textLength="58" lengthAdjust="spacingAndGlyphs">M 1:1000</text>
<rect x="1270.5" y="1235" width="1" height="36.7" fill="#222"/>
<text x="1315.2" y="1249" style="font-size:14px" textLength="384" lengthAdjust="spacingAndGlyphs">ARCHITEKTONICKÁ ŠTÚDIA RIEŠENIA AREÁLU BÝVALEJ</text>
<text x="1315.2" y="1272" style="font-size:14px" textLength="377.5" lengthAdjust="spacingAndGlyphs">VOJENSKEJ NEMOCNICE NA PATRÓNKE V BRATISLAVE</text>
<g fill="#000">
<polygon points="1717.6,1271.7 1759.8,1229 1759.8,1271.7"/>
<polygon points="1783.7,1229 1783.7,1271.7 1768.8,1271.7 1768.8,1251.7 1762.3,1251.7 1762.3,1248.3"/>
<polygon points="1807.6,1229 1807.6,1271.7 1793.7,1271.7 1793.7,1251.7 1785.2,1251.7 1785.2,1248.3"/>
</g>
</svg>
</body></html>
